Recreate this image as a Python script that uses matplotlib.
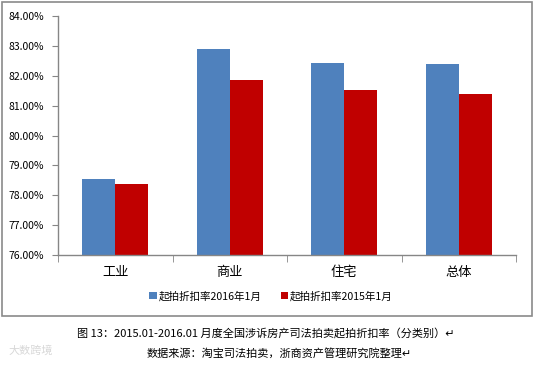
import matplotlib
matplotlib.use("Agg")
import matplotlib.pyplot as plt
import numpy as np
from matplotlib.patches import Rectangle
from matplotlib.ticker import FuncFormatter, FixedLocator

plt.rcParams["font.family"] = ["Noto Sans CJK SC", "DejaVu Sans"]

categories = ["工业", "商业", "住宅", "总体"]
rate_2016 = [78.54, 82.90, 82.43, 82.40]
rate_2015 = [78.37, 81.87, 81.53, 81.40]
series_names = ["起拍折扣率2016年1月", "起拍折扣率2015年1月"]
yticks = [76, 77, 78, 79, 80, 81, 82, 83, 84]

caption = "图 13：2015.01-2016.01 月度全国涉诉房产司法拍卖起拍折扣率（分类别）↵"
source = "数据来源：淘宝司法拍卖，浙商资产管理研究院整理↵"

blue = "#4F81BD"
red = "#C00000"
axis_gray = "#868686"

W, H = 534, 367
fig = plt.figure(figsize=(W / 100, H / 100), dpi=100)

# chart border
fig.patches.append(Rectangle((2 / W, 1 - 316 / H), 530 / W, 314 / H,
                             transform=fig.transFigure, fill=False,
                             edgecolor="#8a8a8a", linewidth=1.2))

ax = fig.add_axes([58 / W, 1 - 255 / H, 458 / W, 239 / H])

x = np.arange(len(categories))
width = 0.29
ax.bar(x - width / 2, rate_2016, width, color=blue, label=series_names[0])
ax.bar(x + width / 2, rate_2015, width, color=red, label=series_names[1])

ax.set_xlim(-0.5, len(categories) - 0.5)
ax.set_ylim(76, 84)
ax.set_yticks(yticks)
ax.yaxis.set_major_formatter(FuncFormatter(lambda v, p: f"{v:.2f}%"))

ax.set_xticks(x)
ax.set_xticklabels(categories, fontsize=9.5)
ax.xaxis.set_minor_locator(FixedLocator(np.arange(-0.5, len(categories), 1.0)))
ax.tick_params(axis="x", which="major", length=0, pad=8)
ax.tick_params(axis="x", which="minor", length=5, color=axis_gray, direction="out")
ax.tick_params(axis="y", length=4, color=axis_gray, labelsize=7.5, pad=6)

for s in ["top", "right"]:
    ax.spines[s].set_visible(False)
for s in ["left", "bottom"]:
    ax.spines[s].set_color(axis_gray)
    ax.spines[s].set_linewidth(1.0)

leg = fig.legend(loc="center", bbox_to_anchor=(271 / W, 1 - 296 / H), ncol=2,
                 frameon=False, fontsize=7.6, handlelength=0.7, handleheight=0.7,
                 handletextpad=0.2, columnspacing=1.8)

fig.text(266 / W, 1 - 333 / H, caption, ha="center", va="center", fontsize=8)
fig.text(279 / W, 1 - 353 / H, source, ha="center", va="center", fontsize=8)
fig.text(8 / W, 1 - 351 / H, "大数跨境", ha="left", va="center", fontsize=8,
         color="#d8d8d8")

fig.savefig("out.png", dpi=100)
